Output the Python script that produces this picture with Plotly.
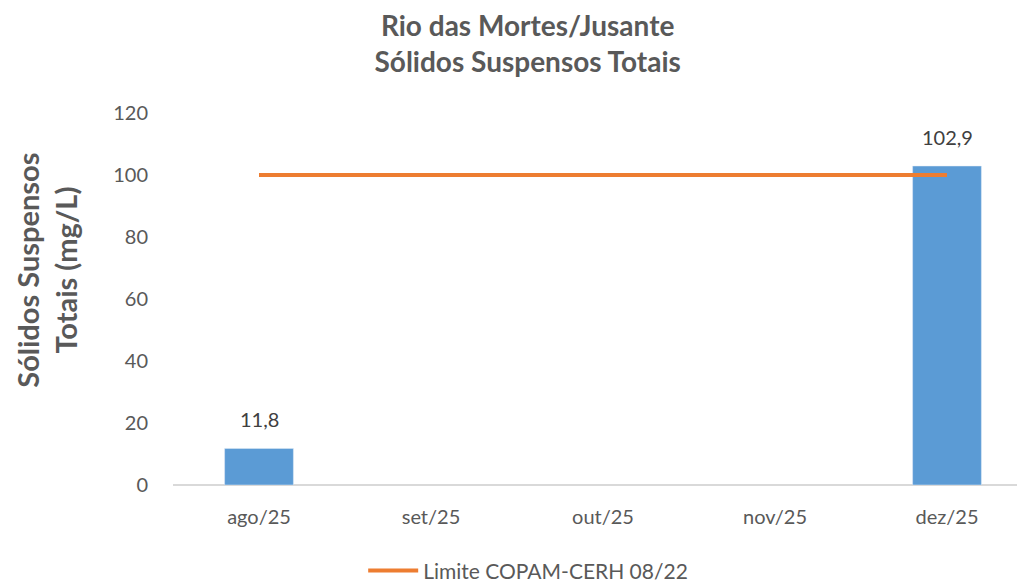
import plotly.graph_objects as go

categories = ["ago/25", "set/25", "out/25", "nov/25", "dez/25"]
sst_values = [11.8, None, None, None, 102.9]
limit_values = [100, 100, 100, 100, 100]
y_ticks = [0, 20, 40, 60, 80, 100, 120]

FONT = "Lato, Open Sans, sans-serif"
GRAY = "#595959"

fig = go.Figure()
fig.add_trace(go.Bar(
    x=categories, y=sst_values, marker_color="#5b9bd5", width=0.4,
    showlegend=False, hoverinfo="x+y",
))
fig.add_trace(go.Scatter(
    x=categories, y=limit_values, mode="lines",
    line=dict(color="#ed7d31", width=4),
    name="Limite COPAM-CERH 08/22",
))

for c, v in zip(categories, sst_values):
    if v is not None:
        fig.add_annotation(
            x=c, y=v, text=("%.1f" % v).replace(".", ","), showarrow=False,
            yanchor="middle", yshift=29,
            font=dict(size=20, color="#404040", family=FONT),
        )

# y-axis title as rotated annotation
fig.add_annotation(
    x=0, xref="paper", y=0.576, yref="paper", xanchor="center", yanchor="middle",
    xshift=-126, textangle=-90, showarrow=False,
    text="<b>Sólidos Suspensos<br>Totais (mg/L)</b>",
    font=dict(size=29, color=GRAY, family=FONT),
)

fig.update_layout(
    width=1025, height=585,
    margin=dict(l=165, r=0, t=105, b=108, autoexpand=False),
    paper_bgcolor="white", plot_bgcolor="white",
    separators=",.",
    font=dict(family=FONT, color=GRAY),
    title=dict(
        text="<b>Rio das Mortes/Jusante<br>Sólidos Suspensos Totais</b>",
        x=0.507, xanchor="center", y=1 - 28 / 585, yanchor="middle",
        font=dict(size=28, color=GRAY, family=FONT),
    ),
    xaxis=dict(
        range=[-0.5, 4.5], showgrid=False, showline=False, zeroline=False,
        ticks="", tickfont=dict(size=20, color=GRAY, family=FONT),
        ticklabelstandoff=18, automargin=False,
    ),
    yaxis=dict(
        range=[0, 120], tickvals=y_ticks, showgrid=False, zeroline=True,
        zerolinecolor="#d9d9d9", zerolinewidth=1.5, showline=False,
        ticks="", tickfont=dict(size=20, color=GRAY, family=FONT),
        ticklabelstandoff=24, automargin=False,
    ),
    legend=dict(
        orientation="h", x=0.413, xanchor="center", y=-0.231, yanchor="middle",
        font=dict(size=21, color=GRAY, family=FONT), itemwidth=50,
    ),
)

fig.write_html("out.html")
